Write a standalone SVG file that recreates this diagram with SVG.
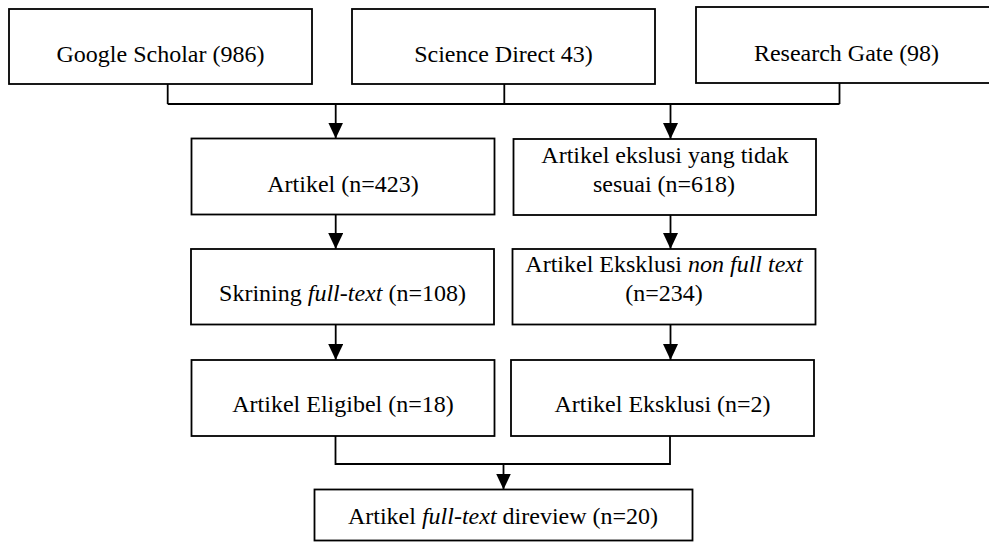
<svg xmlns="http://www.w3.org/2000/svg" width="989" height="542" viewBox="0 0 989 542">
<style>
.box{fill:#fff;stroke:#000;stroke-width:1.8}
.t{font-family:'Liberation Serif','Times New Roman','DejaVu Serif',serif;font-size:24px;fill:#000;text-anchor:middle}
.i{font-style:italic}
.c{fill:none;stroke:#000;stroke-width:1.8}
</style>
<defs>
<marker id="ah" markerUnits="userSpaceOnUse" markerWidth="16" markerHeight="17" refX="16" refY="7.5" orient="auto">
<path d="M0,0 L16,7.5 L0,15 Z" fill="#000"/>
</marker>
</defs>
<rect width="989" height="542" fill="#fff"/>
<g id="connectors">
<path class="c" d="M167.7,84 V104 M504.3,84 V104 M839.5,83 V104 M167.7,104 H839.5"/>
<path class="c" d="M335.7,104 V138.5" marker-end="url(#ah)"/>
<path class="c" d="M670.5,104 V139" marker-end="url(#ah)"/>
<path class="c" d="M335.7,214.5 V249" marker-end="url(#ah)"/>
<path class="c" d="M670.5,215 V249" marker-end="url(#ah)"/>
<path class="c" d="M335.7,324.5 V360" marker-end="url(#ah)"/>
<path class="c" d="M670.5,324.5 V360" marker-end="url(#ah)"/>
<path class="c" d="M335.5,436 V464 H670 V436"/>
<path class="c" d="M503.5,464 V489.5" marker-end="url(#ah)"/>
</g>
<g id="google">
<rect class="box" x="9" y="9" width="303" height="75"/>
<text class="t" font-family="Liberation Serif, Times New Roman, DejaVu Serif, serif" x="160.5" y="61.5">Google Scholar (986)</text>
</g>
<g id="sciencedirect">
<rect class="box" x="352" y="9" width="303" height="75"/>
<text class="t" font-family="Liberation Serif, Times New Roman, DejaVu Serif, serif" x="503.5" y="61.5">Science Direct 43)</text>
</g>
<g id="researchgate">
<rect class="box" x="696" y="7" width="296" height="76"/>
<text class="t" font-family="Liberation Serif, Times New Roman, DejaVu Serif, serif" x="846.5" y="61">Research Gate (98)</text>
</g>
<g id="artikel">
<rect class="box" x="191.5" y="138.5" width="303" height="76"/>
<text class="t" font-family="Liberation Serif, Times New Roman, DejaVu Serif, serif" x="343" y="191.5">Artikel (n=423)</text>
</g>
<g id="ekslusi">
<rect class="box" x="513.5" y="139" width="302.5" height="76"/>
<text class="t" font-family="Liberation Serif, Times New Roman, DejaVu Serif, serif" x="665" y="162.5">Artikel ekslusi yang tidak</text>
<text class="t" font-family="Liberation Serif, Times New Roman, DejaVu Serif, serif" x="664" y="191.5">sesuai (n=618)</text>
</g>
<g id="skrining">
<rect class="box" x="191" y="249" width="303" height="75.5"/>
<text class="t" font-family="Liberation Serif, Times New Roman, DejaVu Serif, serif" x="342.5" y="300.5">Skrining <tspan class="i">full-text</tspan> (n=108)</text>
</g>
<g id="nonfulltext">
<rect class="box" x="512.5" y="249" width="303" height="75.5"/>
<text class="t" font-family="Liberation Serif, Times New Roman, DejaVu Serif, serif" x="664" y="271.5">Artikel Eksklusi <tspan class="i">non full text</tspan></text>
<text class="t" font-family="Liberation Serif, Times New Roman, DejaVu Serif, serif" x="664" y="300.5">(n=234)</text>
</g>
<g id="eligibel">
<rect class="box" x="191.5" y="360" width="303" height="76"/>
<text class="t" font-family="Liberation Serif, Times New Roman, DejaVu Serif, serif" x="343" y="411.5">Artikel Eligibel (n=18)</text>
</g>
<g id="eksklusi">
<rect class="box" x="511" y="360" width="303" height="76"/>
<text class="t" font-family="Liberation Serif, Times New Roman, DejaVu Serif, serif" x="662.5" y="411.5">Artikel Eksklusi (n=2)</text>
</g>
<g id="final">
<rect class="box" x="314.5" y="489.5" width="378" height="51"/>
<text class="t" font-family="Liberation Serif, Times New Roman, DejaVu Serif, serif" x="503" y="524">Artikel <tspan class="i">full-text</tspan> direview (n=20)</text>
</g>
</svg>
